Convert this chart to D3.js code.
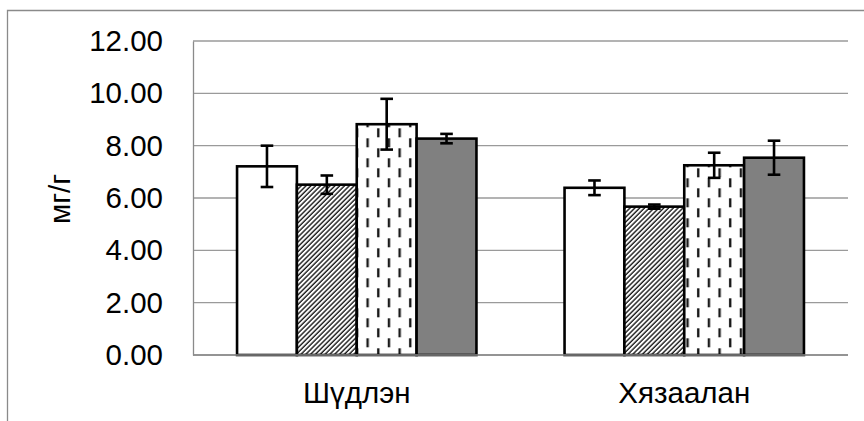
<!DOCTYPE html>
<html>
<head>
<meta charset="utf-8">
<script src="https://cdn.jsdelivr.net/npm/d3@7"></script>
<style>
  html, body { margin: 0; padding: 0; background: #fff; }
  svg { display: block; }
  text { font-family: "Liberation Sans", Arial, sans-serif; fill: #000; }
</style>
</head>
<body>
<svg id="chart" width="864" height="421"></svg>
<script>
// Categories along the x axis
const categories = ["Шүдлэн", "Хязаалан"];
// One entry per bar within a group (fill style keyed below)
const seriesKeys = ["plain", "hatch", "dash", "solid"];
// Mean values (мг/г) per series, in category order
const plainValues = [7.21, 6.39];
const hatchValues = [6.51, 5.67];
const dashValues  = [8.82, 7.25];
const solidValues = [8.27, 7.54];
// Error bar half-lengths per series, in category order
const plainErrors = [0.79, 0.28];
const hatchErrors = [0.35, 0.08];
const dashErrors  = [0.97, 0.48];
const solidErrors = [0.18, 0.65];
// Y axis ticks
const yTicks = [0, 2, 4, 6, 8, 10, 12];
const yLabel = "мг/г";

const values = { plain: plainValues, hatch: hatchValues, dash: dashValues, solid: solidValues };
const errors = { plain: plainErrors, hatch: hatchErrors, dash: dashErrors, solid: solidErrors };

const svg = d3.select("#chart");
const plot = { left: 193, right: 848, top: 41, bottom: 355 };
const fontSize = "29.5px";

// Fill patterns
const defs = svg.append("defs");
const hatch = defs.append("pattern")
  .attr("id", "hatch").attr("patternUnits", "userSpaceOnUse")
  .attr("width", 3.4).attr("height", 3.4)
  .attr("patternTransform", "rotate(45)");
hatch.append("rect").attr("width", 3.4).attr("height", 3.4).attr("fill", "#fff");
hatch.append("line").attr("x1", 1).attr("x2", 1).attr("y1", 0).attr("y2", 3.4)
  .attr("stroke", "#1a1a1a").attr("stroke-width", 1.4);

const dash = defs.append("pattern")
  .attr("id", "dash").attr("patternUnits", "userSpaceOnUse")
  .attr("x", 0).attr("y", 18.3)
  .attr("width", 21.33).attr("height", 20);
dash.append("rect").attr("width", 21.33).attr("height", 20).attr("fill", "#fff");
dash.append("rect").attr("x", 3.8).attr("y", 0).attr("width", 2.4).attr("height", 9).attr("fill", "#1a1a1a");
dash.append("rect").attr("x", 14.5).attr("y", 10).attr("width", 2.4).attr("height", 9).attr("fill", "#1a1a1a");

const fills = { plain: "#ffffff", hatch: "url(#hatch)", dash: "url(#dash)", solid: "#808080" };

// Outer frame (left and top edges)
svg.append("path")
  .attr("d", "M7.5,421 V10.5 H864")
  .attr("fill", "none").attr("stroke", "#8a8a8a").attr("stroke-width", 1.3);

// Scales
const y = d3.scaleLinear().domain([0, 12]).range([plot.bottom, plot.top]);
const x0 = d3.scaleBand().domain(categories).range([plot.left, plot.right])
  .paddingInner(0.269).paddingOuter(0.1345);
const x1 = d3.scaleBand().domain(seriesKeys).range([0, x0.bandwidth()]).padding(0);

// Gridlines
svg.append("g")
  .selectAll("line").data(yTicks).join("line")
  .attr("x1", plot.left).attr("x2", plot.right)
  .attr("y1", d => y(d)).attr("y2", d => y(d))
  .attr("stroke", "#9a9a9a").attr("stroke-width", 1.3);

// Y axis
const yAxis = svg.append("g")
  .attr("transform", `translate(${plot.left},0)`)
  .call(d3.axisLeft(y).tickValues(yTicks).tickFormat(d3.format(".2f")).tickSize(0).tickPadding(30));
yAxis.select(".domain").attr("stroke", "#8a8a8a").attr("stroke-width", 1.3);
yAxis.selectAll("text")
  .style("font-family", '"Liberation Sans", Arial, sans-serif')
  .style("font-size", fontSize).attr("fill", "#000");

// Y axis title
svg.append("text")
  .attr("transform", `translate(70,199) rotate(-90)`)
  .attr("text-anchor", "middle")
  .style("font-size", fontSize)
  .text(yLabel);

// Bars
const rows = [];
categories.forEach((c, i) => {
  seriesKeys.forEach(k => rows.push({ cat: c, key: k, value: values[k][i], err: errors[k][i] }));
});

const bars = svg.append("g");
bars.selectAll("rect").data(rows).join("rect")
  .attr("x", d => x0(d.cat) + x1(d.key))
  .attr("y", d => y(d.value))
  .attr("width", x1.bandwidth())
  .attr("height", d => y(0) - y(d.value))
  .attr("fill", d => fills[d.key])
  .attr("stroke", "#000").attr("stroke-width", 2.6);

// X axis line
svg.append("line")
  .attr("x1", plot.left).attr("x2", plot.right)
  .attr("y1", plot.bottom).attr("y2", plot.bottom)
  .attr("stroke", "#8a8a8a").attr("stroke-width", 1.3);

// Error bars
const eb = svg.append("g").attr("stroke", "#000").attr("stroke-width", 2.6).attr("fill", "none");
const cap = 6.3;
rows.forEach(d => {
  const cx = x0(d.cat) + x1(d.key) + x1.bandwidth() / 2;
  const yt = y(d.value + d.err), yb = y(d.value - d.err);
  eb.append("line").attr("x1", cx).attr("x2", cx).attr("y1", yt).attr("y2", yb);
  eb.append("line").attr("x1", cx - cap).attr("x2", cx + cap).attr("y1", yt).attr("y2", yt);
  eb.append("line").attr("x1", cx - cap).attr("x2", cx + cap).attr("y1", yb).attr("y2", yb);
});

// Category labels
svg.append("g").selectAll("text").data(categories).join("text")
  .attr("x", d => x0(d) + x0.bandwidth() / 2)
  .attr("y", 403)
  .attr("text-anchor", "middle")
  .style("font-size", fontSize)
  .text(d => d);
</script>
</body>
</html>
